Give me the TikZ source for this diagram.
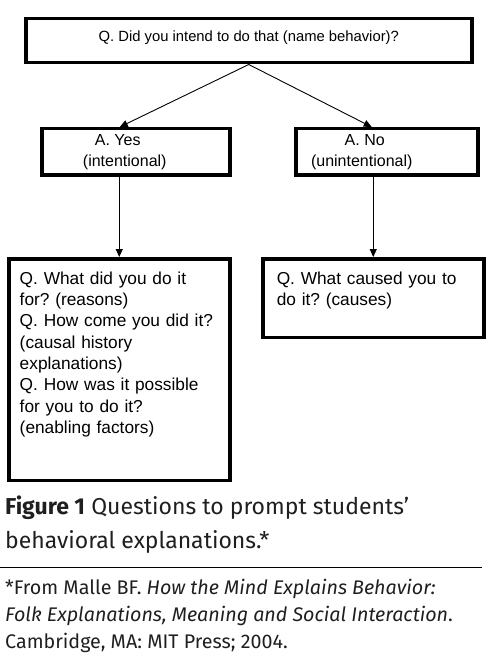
\documentclass[tikz,border=0pt]{standalone}
\usepackage{fontspec}
\setmainfont{Liberation Sans}
\newfontfamily\capfont{Fira Sans}
\usetikzlibrary{arrows.meta}
\usetikzlibrary{positioning}
\frenchspacing

\begin{document}
\begin{tikzpicture}[x=1pt,y=-1pt,
  box/.style={draw=black,line width=3.5pt,rectangle,inner sep=0pt,anchor=north west,font=\fontsize{17.3}{21.3}\selectfont},
  arr/.style={-{Triangle[length=8pt,width=7pt]},line width=0.9pt},
  captext/.style={anchor=north west,inner sep=0pt,align=left,text=black!88}]
\useasboundingbox (0,0) rectangle (486,663);
\node[box,minimum width=446pt,minimum height=44pt,text depth=9pt,font=\fontsize{14.8}{18}\selectfont] (ask) at (24,17) {Q. Did you intend to do that (name behavior)?};
\node[box,minimum width=188pt,minimum height=46pt,align=center,font=\fontsize{16}{21}\selectfont] (yes) at (40,127) {A. Yes\hspace*{36pt}\\(intentional)\hspace*{22pt}};
\node[box,minimum width=182pt,minimum height=46pt,align=center,font=\fontsize{16}{21}\selectfont] (no) at (294,127) {A. No\hspace*{44pt}\\(unintentional)\hspace*{50pt}};

\node[box,align=left,text width=199pt,inner xsep=11pt,inner ysep=13pt,text depth=183pt] (reasons) at (7,257)
  {Q. What did you do it\\for? (reasons)\\Q. How come you did it?\\(causal history\\explanations)\\Q. How was it possible\\for you to do it?\\(enabling factors)};
\node[box,align=left,text width=193pt,inner xsep=14pt,inner ysep=13pt,text depth=40pt] (causes) at (261,257)
  {Q. What caused you to\\do it? (causes)};

\draw[arr] (ask.south) -- ([xshift=-16pt]yes.north);
\draw[arr] (ask.south) -- ([xshift=-15pt]no.north);
\draw[arr] (yes.south -| reasons.north) -- (reasons.north);
\draw[arr] (no.south -| causes.north) -- (causes.north);

% caption and note
\node[captext,font=\capfont\fontsize{23}{34}\selectfont] (caption) at (5,496)
  {\textbf{Figure 1} Questions to prompt students’\\behavioral explanations.*};
\draw[line width=0.6pt] (0,567) -- (482,567);
\node[captext,font=\capfont\fontsize{19.7}{27}\selectfont] (note) at (5,579)
  {*From Malle BF. \textit{How the Mind Explains Behavior:}\\\textit{Folk Explanations, Meaning and Social Interaction}.\\Cambridge, MA: MIT Press; 2004.};
\end{tikzpicture}
\end{document}
